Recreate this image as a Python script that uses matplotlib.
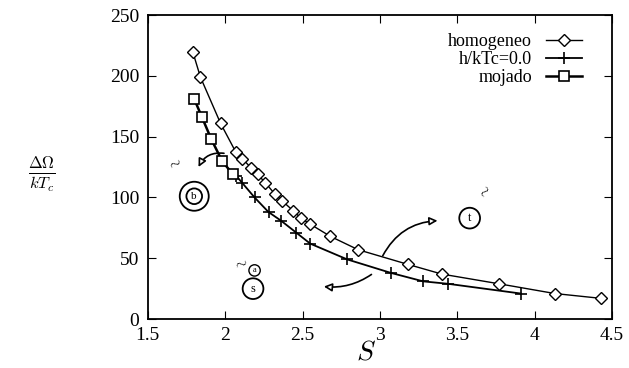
import matplotlib
matplotlib.use("Agg")
import matplotlib.pyplot as plt
from matplotlib.patches import FancyArrowPatch

# data
hom_x = [1.79, 1.84, 1.97, 2.07, 2.11, 2.17, 2.21, 2.26, 2.32, 2.37, 2.44, 2.49, 2.55, 2.68, 2.86, 3.18, 3.40, 3.77, 4.13, 4.43]
hom_y = [220, 199, 161, 137, 132, 124, 119, 112, 103, 97, 89, 83, 78, 68, 57, 45, 37, 29, 21, 17]
h0_x = [2.07, 2.11, 2.19, 2.28, 2.36, 2.46, 2.55, 2.79, 3.07, 3.28, 3.44, 3.91]
h0_y = [118, 112, 100, 88, 81, 71, 62, 49, 38, 31, 29, 21]
moj_x = [1.80, 1.85, 1.91, 1.98, 2.05]
moj_y = [181, 166, 148, 130, 119]
xticks = [1.5, 2, 2.5, 3, 3.5, 4, 4.5]
yticks = [0, 50, 100, 150, 200, 250]
labels = ["homogeneo", "h/kTc=0.0", "mojado"]

plt.rcParams['font.family'] = ['Liberation Serif', 'DejaVu Serif']
plt.rcParams['mathtext.fontset'] = 'cm'

fig = plt.figure(figsize=(6.29, 3.68), dpi=100)
ax = fig.add_axes([0.235, 0.133, 0.738, 0.826])

ax.plot(hom_x, hom_y, color='black', lw=1.0, marker='D', ms=6.5, mfc='white',
        mec='black', mew=1.0, label=labels[0])
ax.plot([moj_x[-1], h0_x[0]], [moj_y[-1], h0_y[0]], color='black', lw=1.3)
ax.plot(h0_x, h0_y, color='black', lw=1.3, marker='+', ms=9, mew=1.2, label=labels[1])
ax.plot(moj_x, moj_y, color='black', lw=1.8, marker='s', ms=7.5, mfc='white',
        mec='black', mew=1.2, label=labels[2])

ax.set_xlim(1.5, 4.5)
ax.set_ylim(0, 250)
ax.set_xticks(xticks)
ax.set_xticklabels([f"{t:g}" for t in xticks])
ax.set_yticks(yticks)
ax.tick_params(direction='in', length=6, top=True, right=True, labelsize=14, pad=6)
for s in ax.spines.values():
    s.set_linewidth(1.3)

ax.set_xlabel(r'$S$', fontsize=20)
ax.xaxis.set_label_coords(0.47, -0.07)
ax.set_ylabel(r'$\frac{\Delta\Omega}{kT_c}$', fontsize=17, rotation=0)
ax.yaxis.set_label_coords(-0.228, 0.41)

leg = ax.legend(loc='upper right', markerfirst=False, frameon=False, fontsize=13,
                handlelength=2.0, borderaxespad=0.6, labelspacing=0.05,
                bbox_to_anchor=(0.975, 1.0))

# hand-drawn annotations
def arrow(p0, p1, rad):
    a = FancyArrowPatch(p0, p1, connectionstyle=f"arc3,rad={rad}", arrowstyle='-|>',
                        mutation_scale=12, color='black', lw=1.2, fc='white')
    ax.add_patch(a)

arrow((2.01, 136), (1.82, 123), 0.4)
arrow((3.01, 50), (3.39, 81), -0.3)
arrow((2.96, 38), (2.62, 27), -0.2)

ax.text(1.80, 101, 'b', fontsize=8, ha='center', va='center',
        bbox=dict(boxstyle='circle,pad=0.3', fc='none', ec='black', lw=1.3))
ax.text(1.80, 101, ' ', fontsize=8, ha='center', va='center',
        bbox=dict(boxstyle='circle,pad=0.9', fc='none', ec='black', lw=1.3))
ax.text(3.58, 83, 't', fontsize=9, ha='center', va='center',
        bbox=dict(boxstyle='circle,pad=0.35', fc='none', ec='black', lw=1.3))
ax.text(2.18, 25, 's', fontsize=9, ha='center', va='center',
        bbox=dict(boxstyle='circle,pad=0.35', fc='none', ec='black', lw=1.3))
ax.text(2.19, 40, 'a', fontsize=6, ha='center', va='center',
        bbox=dict(boxstyle='circle,pad=0.2', fc='none', ec='black', lw=1.0))
ax.text(1.67, 128, r'$\sim$', fontsize=11, rotation=30, ha='center', va='center')
ax.text(3.67, 105, r'$\sim$', fontsize=11, rotation=60, ha='center', va='center')
ax.text(2.1, 46, r'$\sim$', fontsize=11, rotation=20, ha='center', va='center')

fig.savefig('out.png', dpi=100)
